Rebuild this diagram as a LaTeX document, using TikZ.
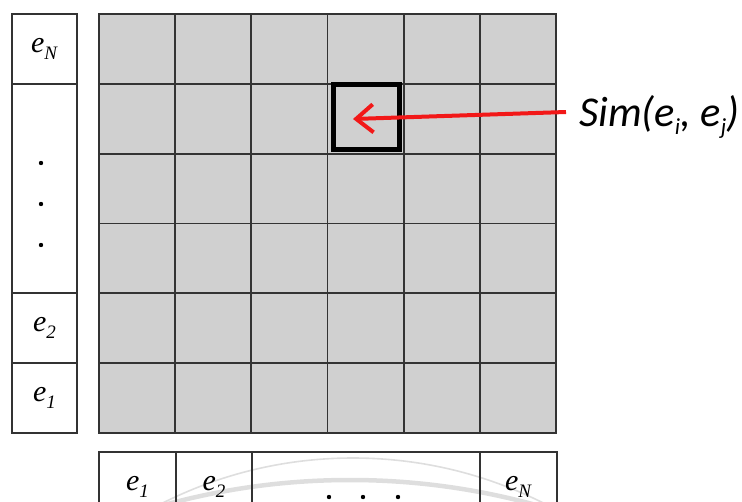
\documentclass[tikz,border=0pt]{standalone}
\usepackage{fontspec}
\setmainfont{Liberation Serif}
\newfontfamily\simfont{Carlito}
\usepackage{tikz}
\usetikzlibrary{positioning, arrows.meta, calc}
\definecolor{cellGray}{HTML}{D0D0D0}
\definecolor{cellLine}{HTML}{333333}
\definecolor{markGray}{HTML}{DEDEDE}
\definecolor{simRed}{HTML}{F21818}
\newcommand{\evec}[1]{\textit{e}\raisebox{-7pt}{\fontsize{19}{19}\selectfont\textit{#1}}}
\newcommand{\simsub}[1]{\raisebox{-8pt}{\fontsize{23}{23}\selectfont #1}}
\tikzset{
  gcell/.style={draw=cellLine, line width=1.7pt,
    minimum width=76.17pt, minimum height=69.83pt, inner sep=0pt},
  ecell/.style={draw=cellLine, line width=1.7pt, inner sep=0pt,
    font=\fontsize{30}{30}\selectfont},
  hitbox/.style={draw=black, line width=4.3pt, minimum width=66pt,
    minimum height=65pt, inner sep=0pt},
  simlabel/.style={font=\simfont\itshape\fontsize{42.5}{42.5}\selectfont, inner sep=2pt},
  simarrow/.style={-{Straight Barb[length=17pt, width=28pt]}, line width=4pt, simRed},
  wmark/.style={draw=markGray},
}

\begin{document}
\begin{tikzpicture}[x=1pt, y=-1pt]
  \useasboundingbox (0,0) rectangle (742,501);
  \clip (0,0) rectangle (742,501);
  % watermark arcs
  \draw[wmark, line width=1.6pt] (353,882) circle (424pt);
  \draw[wmark, line width=4.5pt] (350,1179) circle (699pt);
  % similarity grid
  \fill[cellGray] (99,14) rectangle (556,433);
  \foreach \c in {0,...,5} {
    \foreach \r in {0,...,5} {
      \node[gcell] (g\c\r) at ({99+76.17*(\c+0.5)}, {14+69.83*(\r+0.5)}) {};
    }
  }
  \node[hitbox] (hit) at (366.5,117) {};
  % left column
  \node[ecell, minimum width=65pt, minimum height=70pt] (lN) at (44.5,49) {\evec{N}};
  \node[ecell, minimum width=65pt, minimum height=209pt] (ldots) at (44.5,188.5) {};
  \node[ecell, minimum width=65pt, minimum height=70pt] (l2) at (44.5,328) {\evec{2}};
  \node[ecell, minimum width=65pt, minimum height=70pt] (l1) at (44.5,398) {\evec{1}};
  \foreach \y in {163,204,245}
    \fill (41,\y) circle (2.2pt);
  % bottom row
  \node[ecell, minimum width=77pt, minimum height=70pt] (b1) at (137.5,487) {\evec{1}};
  \node[ecell, minimum width=76pt, minimum height=70pt] (b2) at (214,487) {\evec{2}};
  \node[ecell, minimum width=228pt, minimum height=70pt] (bdots) at (366,487) {};
  \node[ecell, minimum width=77pt, minimum height=70pt] (bN) at (518.5,487) {\evec{N}};
  \foreach \x in {329,363,398}
    \fill (\x,497) circle (2.2pt);
  % label and arrow
  \node[simlabel, anchor=west] (sim) at (577,117)
    {Sim(e\simsub{i}, e\simsub{j})};
  \coordinate (tip) at (353,119);
  \draw[simarrow] ($(sim.west)+(-11,-5)$) -- (tip);
\end{tikzpicture}
\end{document}
